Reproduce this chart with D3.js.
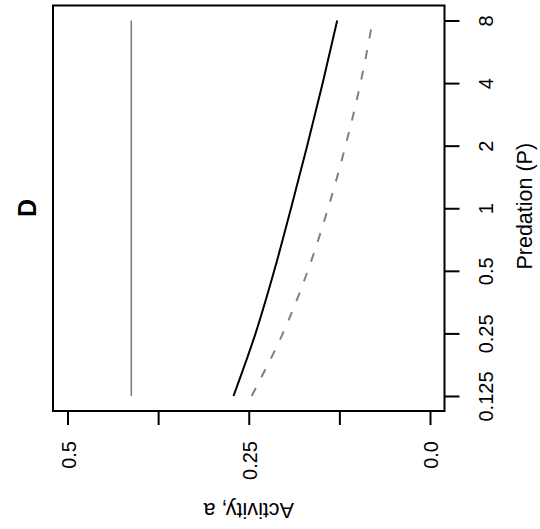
<!DOCTYPE html>
<html>
<head>
<meta charset="utf-8">
<script src="https://cdn.jsdelivr.net/npm/d3@7"></script>
<style>
  body { margin: 0; background: #fff; }
  svg text { font-family: "Liberation Sans", Arial, sans-serif; fill: #000; }
</style>
</head>
<body>
<div id="graph"></div>
<script>
const svgw = 540
const svgh = 529

// data
const predation = [0.125, 0.25, 0.5, 1, 2, 4, 8]
const activityNone = [0.412, 0.412, 0.412, 0.412, 0.412, 0.412, 0.412]
const activitySolid = [0.271, 0.2406, 0.2149, 0.1917, 0.1694, 0.148, 0.128]
const activityDashed = [0.246, 0.203, 0.1686, 0.1406, 0.1165, 0.0959, 0.079]

const actTicks = [0.5, 0.375, 0.25, 0.125, 0]
const actLabels = ["0.5", "", "0.25", "", "0.0"]
const predTicks = [0.125, 0.25, 0.5, 1, 2, 4, 8]
const predLabels = ["0.125", "0.25", "0.5", "1", "2", "4", "8"]

const box = { left: 53, right: 444.5, top: 5.5, bottom: 411 }

const svg = d3.select('#graph')
    .append('svg')
    .attr('width', svgw)
    .attr('height', svgh)

// activity runs right to left, R style 4% padding
const xScale = d3.scaleLinear()
    .domain([0.52, -0.02])
    .range([box.left, box.right])
const yScale = d3.scaleLog().base(2)
    .domain([Math.pow(2, -3.24), Math.pow(2, 3.24)])
    .range([box.bottom, box.top])

// bottom axis
const xAxis = d3.axisBottom(xScale)
    .tickValues(actTicks)
    .tickSize(14)
    .tickFormat((d, i) => actLabels[i])
const gx = svg.append('g')
    .attr('transform', `translate(0,${box.bottom})`)
    .call(xAxis)
gx.select('.domain').remove()
gx.selectAll('line').attr('stroke', '#000').attr('stroke-width', 2)
gx.selectAll('text')
    .attr('font-size', 20)
    .attr('text-anchor', 'end')
    .attr('x', 0).attr('y', 0).attr('dy', null)
    .attr('transform', 'translate(7.5,30) rotate(-90)')

// right axis
const yAxis = d3.axisRight(yScale)
    .tickValues(predTicks)
    .tickSize(15)
    .tickFormat((d, i) => predLabels[i])
const gy = svg.append('g')
    .attr('transform', `translate(${box.right},0)`)
    .call(yAxis)
gy.select('.domain').remove()
gy.selectAll('line').attr('stroke', '#000').attr('stroke-width', 2)
gy.selectAll('text')
    .attr('font-size', 20)
    .attr('text-anchor', 'middle')
    .attr('x', 0).attr('y', 0).attr('dy', null)
    .attr('transform', 'translate(48.5,0) rotate(-90)')

// box
svg.append('rect')
    .attr('x', box.left).attr('y', box.top)
    .attr('width', box.right - box.left)
    .attr('height', box.bottom - box.top)
    .attr('fill', 'none')
    .attr('stroke', '#000')
    .attr('stroke-width', 2)

function series(vals) {
    return predation.map((p, i) => ({ p: p, a: vals[i] }))
}
const line = d3.line()
    .x(d => xScale(d.a))
    .y(d => yScale(d.p))
    .curve(d3.curveMonotoneY)

svg.append('path')
    .datum(series(activityNone))
    .attr('d', line)
    .attr('fill', 'none')
    .attr('stroke', '#808080')
    .attr('stroke-width', 1.6)

svg.append('path')
    .datum(series(activitySolid))
    .attr('d', line)
    .attr('fill', 'none')
    .attr('stroke', '#000')
    .attr('stroke-width', 2)

svg.append('path')
    .datum(series(activityDashed))
    .attr('d', line)
    .attr('fill', 'none')
    .attr('stroke', '#808080')
    .attr('stroke-width', 2)
    .attr('stroke-dasharray', '9,12')

// labels
svg.append('text')
    .attr('transform', `translate(${(box.left + box.right) / 2},503) rotate(180)`)
    .attr('text-anchor', 'middle')
    .attr('font-size', 21.5)
    .text('Activity, a')

svg.append('text')
    .attr('transform', `translate(532,${(box.top + box.bottom) / 2 - 2}) rotate(-90)`)
    .attr('text-anchor', 'middle')
    .attr('font-size', 21.5)
    .text('Predation (P)')

svg.append('text')
    .attr('transform', `translate(36,208) rotate(-90)`)
    .attr('text-anchor', 'middle')
    .attr('font-size', 25)
    .attr('font-weight', 'bold')
    .text('D')
</script>
</body>
</html>
